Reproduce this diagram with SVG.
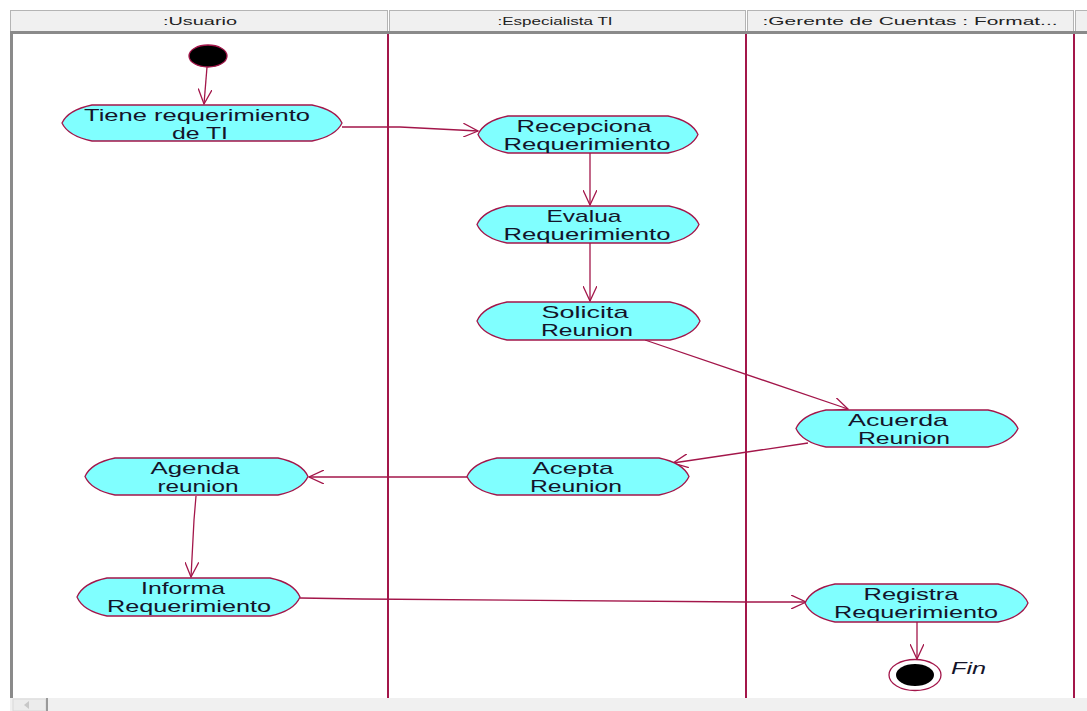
<svg xmlns="http://www.w3.org/2000/svg" width="1087" height="711" viewBox="0 0 1087 711">
  <defs>
    <style>
      .hdr { fill: #f0f0f0; stroke: #b4b4b4; stroke-width: 1; }
      .hdrtxt { font-family: "Liberation Sans", Arial, sans-serif; font-size: 11px; fill: #222; text-anchor: middle; }
      .lane { stroke: #a3164a; stroke-width: 2; }
      .act { fill: #80ffff; stroke: #a3164a; stroke-width: 1.3; }
      .lbl { font-family: "Liberation Sans", Arial, sans-serif; font-size: 17px; fill: #14142a; }
      .flow { stroke: #a3164a; stroke-width: 1.3; fill: none; marker-end: url(#open); }
    </style>
    <marker id="open" viewBox="0 0 16 14" refX="15" refY="7" markerWidth="16" markerHeight="14" markerUnits="userSpaceOnUse" orient="auto">
      <path d="M0,0 L15,7 L0,14" fill="none" stroke="#a3164a" stroke-width="1.3"/>
    </marker>
  </defs>

  <rect x="0" y="0" width="1087" height="711" fill="#ffffff"/>

  <!-- lane headers -->
  <g id="headers">
    <rect class="hdr" x="10.5" y="10.5" width="377" height="21"/>
    <rect class="hdr" x="389.5" y="10.5" width="356" height="21"/>
    <rect class="hdr" x="747.5" y="10.5" width="326" height="21"/>
    <rect class="hdr" x="1075.5" y="10.5" width="20" height="21"/>
    <rect x="10" y="31" width="1077" height="3" fill="#8a8a8a"/>
    <text class="hdrtxt" x="200" y="25" textLength="74" lengthAdjust="spacingAndGlyphs">:Usuario</text>
    <text class="hdrtxt" x="555" y="25" textLength="115" lengthAdjust="spacingAndGlyphs">:Especialista TI</text>
    <text class="hdrtxt" x="910" y="25" textLength="295" lengthAdjust="spacingAndGlyphs">:Gerente de Cuentas : Format...</text>
  </g>

  <!-- frame and lanes -->
  <rect x="10" y="34" width="3" height="664" fill="#8a8a8a"/>
  <g id="lanes">
    <line class="lane" x1="388" y1="34" x2="388" y2="698"/>
    <line class="lane" x1="746" y1="34" x2="746" y2="698"/>
    <line class="lane" x1="1074" y1="34" x2="1074" y2="698"/>
  </g>

  <!-- scroll bar -->
  <rect x="10" y="698" width="1077" height="13" fill="#f0f0f0"/>
  <rect x="13" y="699" width="33" height="12" fill="#ececec" stroke="#d8d8d8"/>
  <line x1="47" y1="698" x2="47" y2="711" stroke="#9a9a9a" stroke-width="2"/>
  <path d="M24,705 L29,701 L29,709 Z" fill="#c8c8c8"/>

  <!-- connectors -->
  <g id="connectors">
    <line class="flow" x1="207" y1="67" x2="204" y2="104"/>
    <polyline class="flow" points="342,127 400,127 478,131"/>
    <line class="flow" x1="590" y1="153" x2="590" y2="205"/>
    <line class="flow" x1="590" y1="243" x2="590" y2="301"/>
    <line class="flow" x1="645" y1="340" x2="848" y2="409"/>
    <line class="flow" x1="808" y1="443" x2="673" y2="463"/>
    <line class="flow" x1="467" y1="477" x2="309" y2="477"/>
    <polyline class="flow" points="196,496 194,520 191,577"/>
    <polyline class="flow" points="300,598 362,599 746,602 806,602"/>
    <line class="flow" x1="917" y1="622" x2="917" y2="659"/>
  </g>

  <!-- start -->
  <g id="start">
    <ellipse cx="208" cy="56" rx="19" ry="11" fill="#000" stroke="#a3164a" stroke-width="1.3"/>
  </g>

  <g id="tiene">
    <path class="act" d="M92,105 L312,105 Q336,110 342,123 Q336,136 312,141 L92,141 Q68,136 62,123 Q68,110 92,105 Z"/>
    <text class="lbl" x="197" y="121" text-anchor="middle" textLength="226" lengthAdjust="spacingAndGlyphs">Tiene requerimiento</text>
    <text class="lbl" x="200" y="139" text-anchor="middle" textLength="56" lengthAdjust="spacingAndGlyphs">de TI</text>
  </g>

  <g id="recepciona">
    <path class="act" d="M508,116 L668,116 Q692,121 698,134.5 Q692,148 668,153 L508,153 Q484,148 478,134.5 Q484,121 508,116 Z"/>
    <text class="lbl" x="584" y="132" text-anchor="middle" textLength="135" lengthAdjust="spacingAndGlyphs">Recepciona</text>
    <text class="lbl" x="587" y="150" text-anchor="middle" textLength="167" lengthAdjust="spacingAndGlyphs">Requerimiento</text>
  </g>

  <g id="evalua">
    <path class="act" d="M507,206 L669,206 Q693,211 699,224.5 Q693,238 669,243 L507,243 Q483,238 477,224.5 Q483,211 507,206 Z"/>
    <text class="lbl" x="584" y="222" text-anchor="middle" textLength="75" lengthAdjust="spacingAndGlyphs">Evalua</text>
    <text class="lbl" x="587" y="240" text-anchor="middle" textLength="167" lengthAdjust="spacingAndGlyphs">Requerimiento</text>
  </g>

  <g id="solicita">
    <path class="act" d="M507,302 L670,302 Q694,307 700,321 Q694,335 670,340 L507,340 Q483,335 477,321 Q483,307 507,302 Z"/>
    <text class="lbl" x="585" y="318" text-anchor="middle" textLength="87" lengthAdjust="spacingAndGlyphs">Solicita</text>
    <text class="lbl" x="587" y="336" text-anchor="middle" textLength="92" lengthAdjust="spacingAndGlyphs">Reunion</text>
  </g>

  <g id="acuerda">
    <path class="act" d="M826,410 L988,410 Q1012,415 1018,428.5 Q1012,442 988,447 L826,447 Q802,442 796,428.5 Q802,415 826,410 Z"/>
    <text class="lbl" x="898" y="426" text-anchor="middle" textLength="100" lengthAdjust="spacingAndGlyphs">Acuerda</text>
    <text class="lbl" x="904" y="444" text-anchor="middle" textLength="92" lengthAdjust="spacingAndGlyphs">Reunion</text>
  </g>

  <g id="acepta">
    <path class="act" d="M497,458 L659,458 Q683,463 689,476.5 Q683,490 659,495 L497,495 Q473,490 467,476.5 Q473,463 497,458 Z"/>
    <text class="lbl" x="573" y="474" text-anchor="middle" textLength="81" lengthAdjust="spacingAndGlyphs">Acepta</text>
    <text class="lbl" x="576" y="492" text-anchor="middle" textLength="92" lengthAdjust="spacingAndGlyphs">Reunion</text>
  </g>

  <g id="agenda">
    <path class="act" d="M115,458 L278,458 Q302,463 308,476.5 Q302,490 278,495 L115,495 Q91,490 85,476.5 Q91,463 115,458 Z"/>
    <text class="lbl" x="195" y="474" text-anchor="middle" textLength="89" lengthAdjust="spacingAndGlyphs">Agenda</text>
    <text class="lbl" x="198" y="492" text-anchor="middle" textLength="81" lengthAdjust="spacingAndGlyphs">reunion</text>
  </g>

  <g id="informa">
    <path class="act" d="M107,578 L270,578 Q294,583 300,597 Q294,611 270,616 L107,616 Q83,611 77,597 Q83,583 107,578 Z"/>
    <text class="lbl" x="183" y="594" text-anchor="middle" textLength="84" lengthAdjust="spacingAndGlyphs">Informa</text>
    <text class="lbl" x="189" y="612" text-anchor="middle" textLength="164" lengthAdjust="spacingAndGlyphs">Requerimiento</text>
  </g>

  <g id="registra">
    <path class="act" d="M835,584 L998,584 Q1022,589 1028,603 Q1022,617 998,622 L835,622 Q811,617 805,603 Q811,589 835,584 Z"/>
    <text class="lbl" x="911" y="600" text-anchor="middle" textLength="95" lengthAdjust="spacingAndGlyphs">Registra</text>
    <text class="lbl" x="916" y="618" text-anchor="middle" textLength="164" lengthAdjust="spacingAndGlyphs">Requerimiento</text>
  </g>

  <!-- end -->
  <g id="fin">
    <ellipse cx="915" cy="675" rx="26" ry="15.5" fill="#ffffff" stroke="#a3164a" stroke-width="1.3"/>
    <ellipse cx="915" cy="675" rx="19" ry="11" fill="#000"/>
    <text x="951" y="674" font-family="Liberation Sans, Arial, sans-serif" font-size="16" font-style="italic" fill="#14142a" textLength="35" lengthAdjust="spacingAndGlyphs">Fin</text>
  </g>
</svg>
